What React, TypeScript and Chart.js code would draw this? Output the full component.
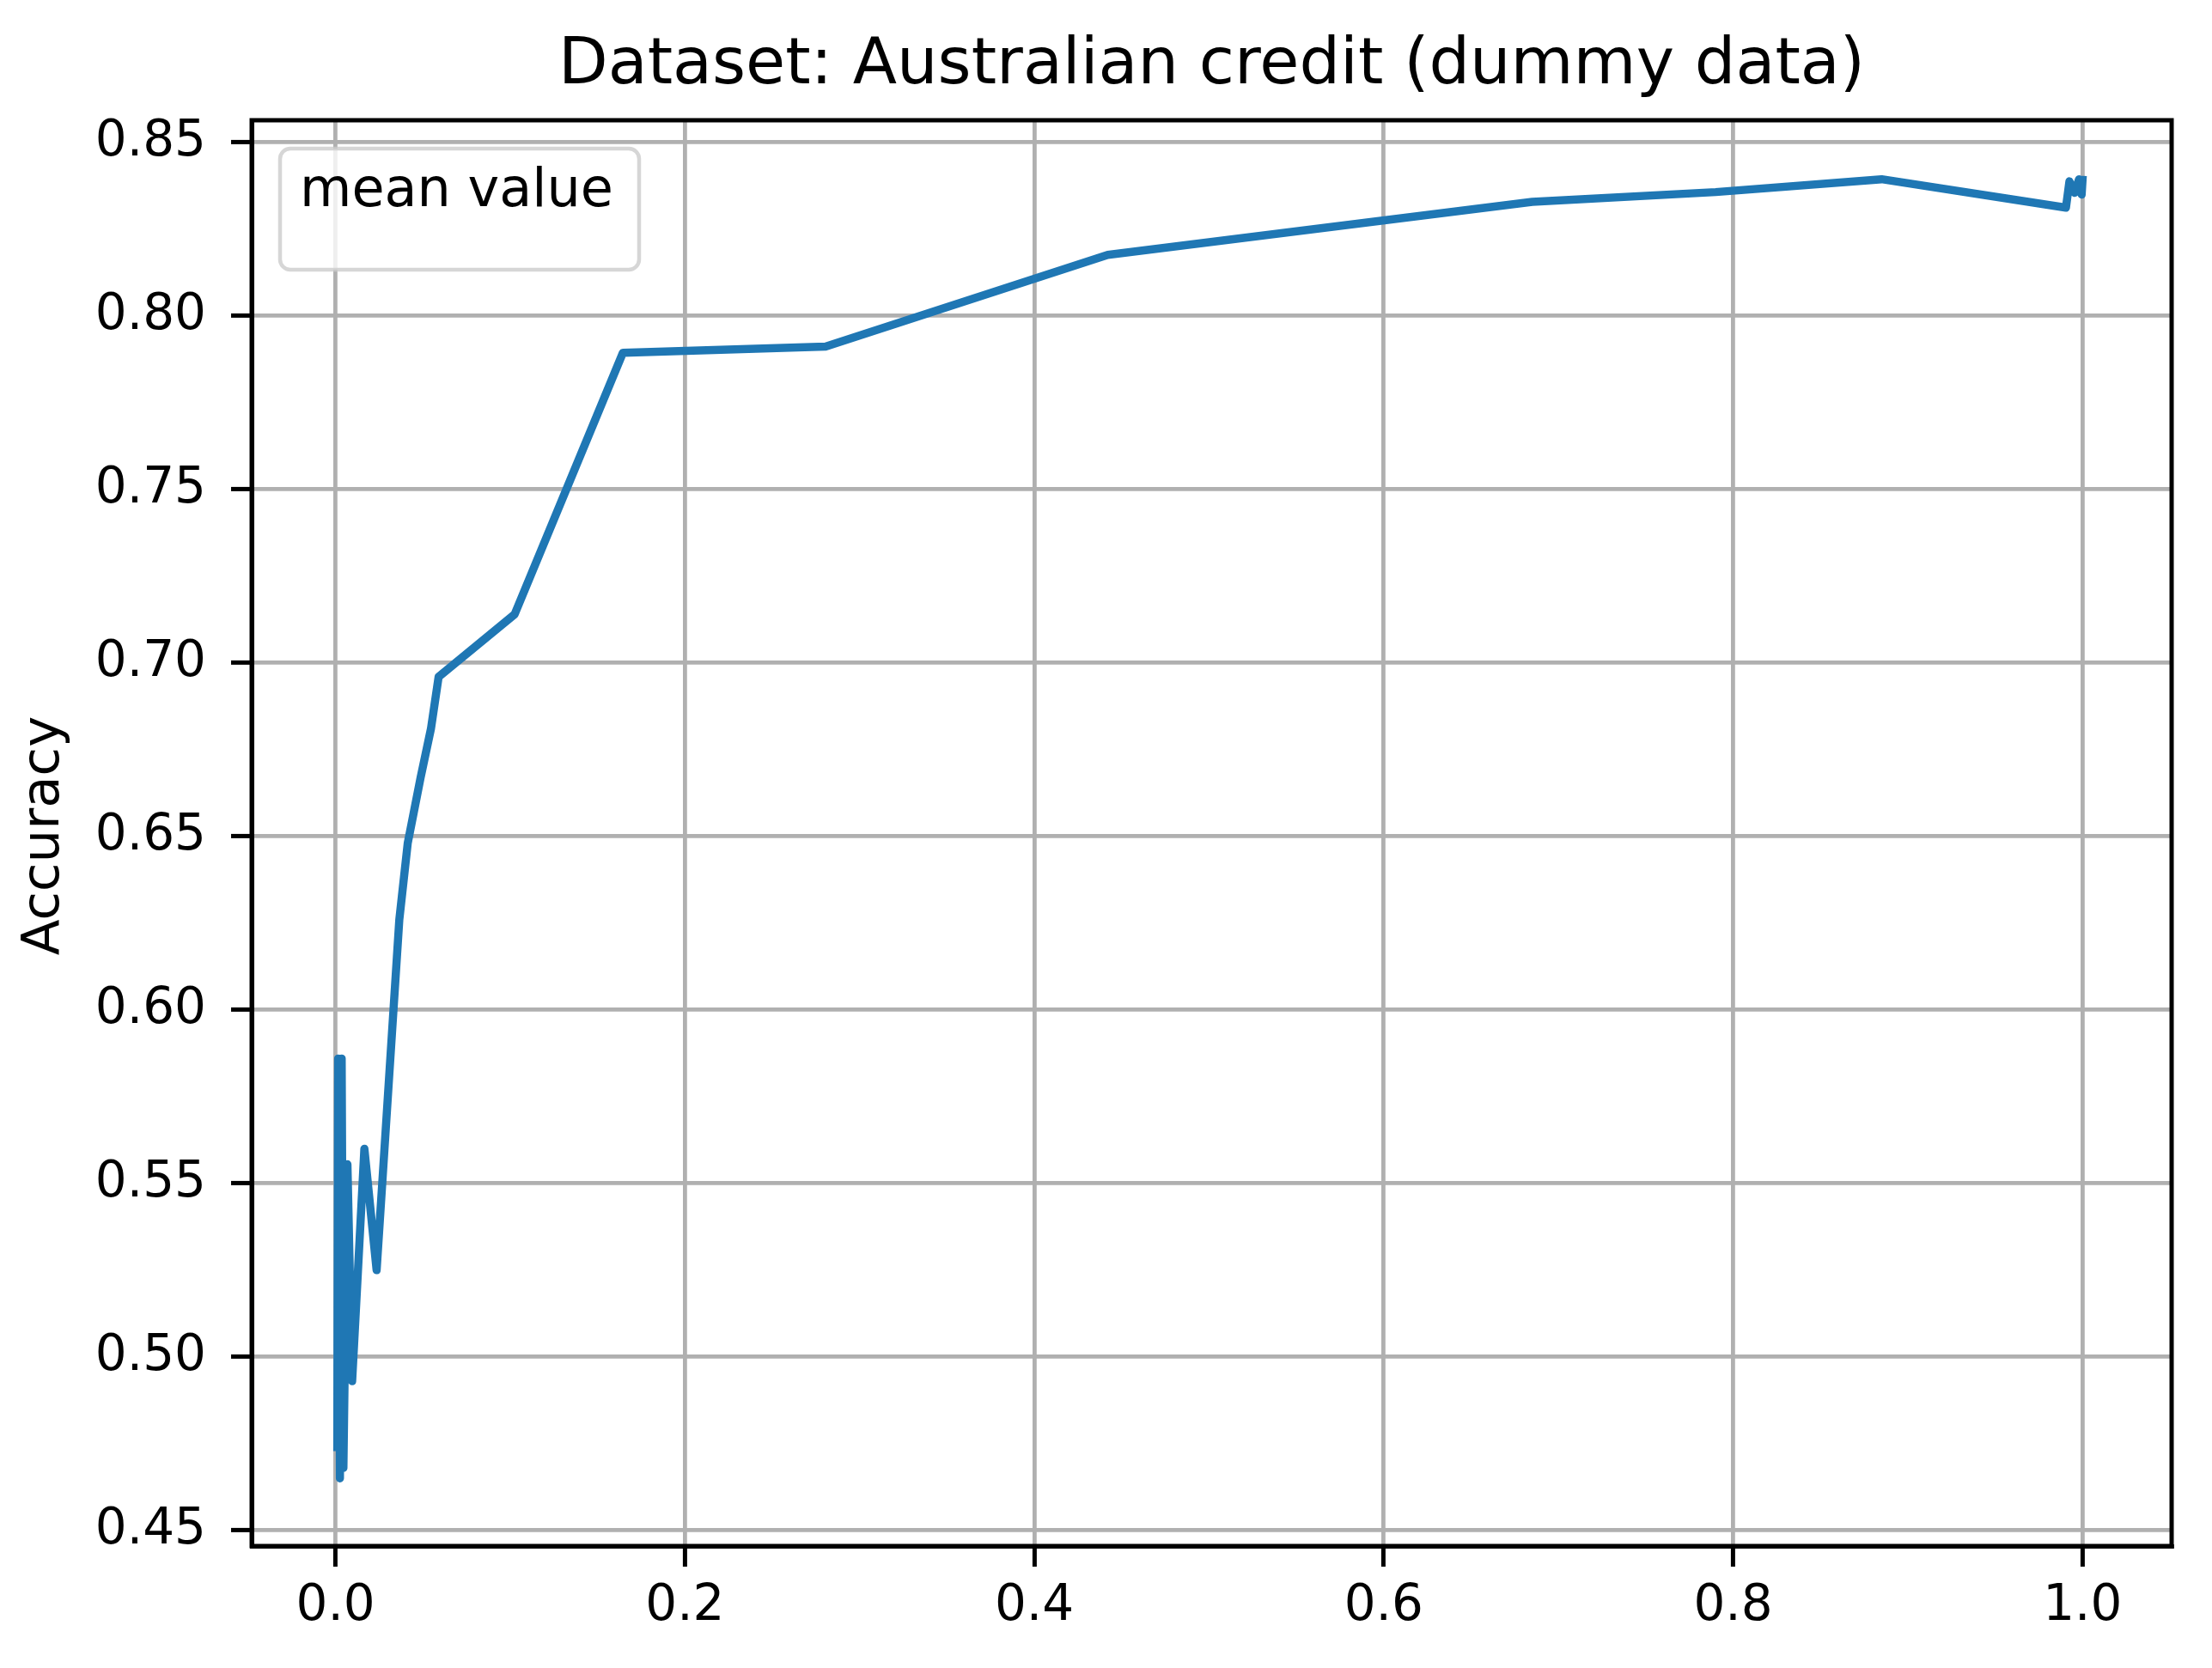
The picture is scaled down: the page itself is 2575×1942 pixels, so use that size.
import React, { useEffect, useRef } from "react";
import { Chart, registerables } from "chart.js";

Chart.register(...registerables);

const TITLE = "Dataset: Australian credit (dummy data)";
const Y_LABEL = "Accuracy";
const LEGEND_TEXT = "mean value";

const X_VALUES = [
  0.0010, 0.0015, 0.0025, 0.0035, 0.0045, 0.0068, 0.0095, 0.0165, 0.0235,
  0.0365, 0.0413, 0.0487, 0.0546, 0.0590, 0.1025, 0.1645, 0.2805, 0.4420,
  0.6850, 0.7900, 0.8850, 0.9905, 0.9925, 0.9955, 0.9980, 0.9995, 1.0000,
];
const Y_VALUES = [
  0.474, 0.586, 0.465, 0.586, 0.468, 0.5555, 0.493, 0.560, 0.525,
  0.626, 0.648, 0.667, 0.681, 0.696, 0.714, 0.7894, 0.7912, 0.8176,
  0.8329, 0.8357, 0.8394, 0.8312, 0.8388, 0.8355, 0.8394, 0.8350, 0.8392,
];

const X_TICKS = [0.0, 0.2, 0.4, 0.6, 0.8, 1.0];
const Y_TICKS = [0.45, 0.5, 0.55, 0.6, 0.65, 0.7, 0.75, 0.8, 0.85];

const W = 2575;
const H = 1942;
const FONT = "DejaVu Sans";

export default function App() {
  const ref = useRef<HTMLCanvasElement | null>(null);

  useEffect(() => {
    if (!ref.current) return;
    const points = X_VALUES.map((x, i) => ({ x, y: Y_VALUES[i] }));

    const decor = {
      id: "decor",
      afterDatasetsDraw(chart: any) {
        const { ctx, chartArea } = chart;
        ctx.save();
        ctx.strokeStyle = "#000";
        ctx.lineWidth = 5;
        ctx.strokeRect(chartArea.left, chartArea.top, chartArea.right - chartArea.left, chartArea.bottom - chartArea.top);
        ctx.restore();
      },
      afterDraw(chart: any) {
        const { ctx, chartArea } = chart;
        ctx.save();
        // title
        ctx.fillStyle = "#000";
        ctx.font = `75px "${FONT}"`;
        ctx.textAlign = "center";
        ctx.textBaseline = "alphabetic";
        ctx.fillText(TITLE, (chartArea.left + chartArea.right) / 2, 97);
        // y label
        ctx.save();
        ctx.translate(68, (chartArea.top + chartArea.bottom) / 2 + 3);
        ctx.rotate(-Math.PI / 2);
        ctx.font = `61px "${FONT}"`;
        ctx.textAlign = "center";
        ctx.textBaseline = "alphabetic";
        ctx.fillText(Y_LABEL, 0, 0);
        ctx.restore();
        // legend box
        const bx = 326, by = 173, bw = 418, bh = 141, r = 12;
        ctx.beginPath();
        ctx.moveTo(bx + r, by);
        ctx.lineTo(bx + bw - r, by);
        ctx.arcTo(bx + bw, by, bx + bw, by + r, r);
        ctx.lineTo(bx + bw, by + bh - r);
        ctx.arcTo(bx + bw, by + bh, bx + bw - r, by + bh, r);
        ctx.lineTo(bx + r, by + bh);
        ctx.arcTo(bx, by + bh, bx, by + bh - r, r);
        ctx.lineTo(bx, by + r);
        ctx.arcTo(bx, by, bx + r, by, r);
        ctx.closePath();
        ctx.fillStyle = "rgba(255,255,255,0.8)";
        ctx.fill();
        ctx.strokeStyle = "rgba(204,204,204,0.8)";
        ctx.lineWidth = 4.5;
        ctx.stroke();
        ctx.fillStyle = "#000";
        ctx.font = `62px "${FONT}"`;
        ctx.textAlign = "left";
        ctx.fillText(LEGEND_TEXT, 349, 240);
        ctx.restore();
      },
    };

    const chart = new Chart(ref.current, {
      type: "line",
      data: {
        datasets: [
          {
            label: LEGEND_TEXT,
            data: points,
            borderColor: "#1f77b4",
            backgroundColor: "#1f77b4",
            borderWidth: 9.5,
            pointRadius: 0,
            tension: 0,
            borderJoinStyle: "round",
            borderCapStyle: "square",
            fill: false,
          },
        ],
      },
      options: {
        animation: false,
        responsive: false,
        devicePixelRatio: 1,
        layout: { padding: { left: 0, top: 140, right: 47, bottom: 0 } },
        plugins: {
          legend: { display: false },
          title: { display: false },
          tooltip: { enabled: false },
        },
        scales: {
          x: {
            type: "linear",
            min: -0.048,
            max: 1.051,
            afterFit(scale: any) {
              scale.height = H - 1800;
            },
            afterBuildTicks(scale: any) {
              scale.ticks = X_TICKS.map((v) => ({ value: v }));
            },
            grid: {
              color: "#b0b0b0",
              lineWidth: 4.8,
              drawTicks: true,
              tickLength: 24,
              tickColor: "#000",
              tickWidth: 5,
            },
            border: { display: true, color: "#000", width: 5 },
            ticks: {
              color: "#000",
              font: { family: FONT, size: 58 },
              padding: 12,
              maxRotation: 0,
              autoSkip: false,
              callback: (v: any) => Number(v).toFixed(1),
            },
          },
          y: {
            type: "linear",
            min: 0.4455,
            max: 0.8564,
            afterFit(scale: any) {
              scale.width = 293;
            },
            afterBuildTicks(scale: any) {
              scale.ticks = Y_TICKS.map((v) => ({ value: v }));
            },
            grid: {
              color: "#b0b0b0",
              lineWidth: 4.8,
              drawTicks: true,
              tickLength: 24,
              tickColor: "#000",
              tickWidth: 5,
            },
            border: { display: true, color: "#000", width: 5 },
            ticks: {
              color: "#000",
              font: { family: FONT, size: 58 },
              padding: 29,
              autoSkip: false,
              callback: (v: any) => Number(v).toFixed(2),
            },
          },
        },
      },
      plugins: [decor],
    });
    return () => chart.destroy();
  }, []);

  return (
    <div style={{ position: "absolute", left: 0, top: 0, width: W, height: H, background: "#fff" }}>
      <canvas ref={ref} width={W} height={H} style={{ width: W, height: H, display: "block" }} />
    </div>
  );
}
